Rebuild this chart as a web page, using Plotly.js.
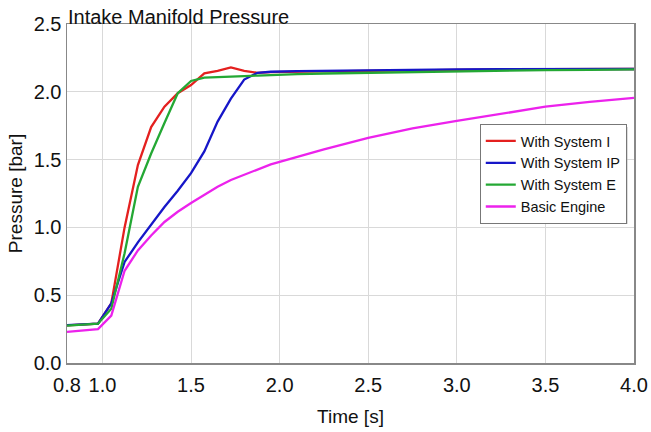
<!DOCTYPE html>
<html>
<head>
<meta charset="utf-8">
<script src="https://cdn.plot.ly/plotly-3.0.1.min.js"></script>
<style>html,body{margin:0;padding:0;background:#fff;}#chart{width:651px;height:432px;}</style>
</head>
<body>
<div id="chart"></div>
<script>
const time = [0.8, 0.975, 1.05, 1.125, 1.2, 1.275, 1.35, 1.425, 1.5, 1.575, 1.65, 1.725, 1.8, 1.875, 1.95, 2.1, 2.25, 2.5, 2.75, 3.0, 3.25, 3.5, 3.75, 4.0];
const systemI  = [0.278, 0.29, 0.44, 1.0, 1.46, 1.74, 1.89, 1.99, 2.05, 2.136, 2.155, 2.18, 2.155, 2.14, 2.145, 2.15, 2.15, 2.155, 2.16, 2.162, 2.165, 2.167, 2.167, 2.168];
const systemIP = [0.28, 0.29, 0.44, 0.745, 0.89, 1.02, 1.15, 1.27, 1.40, 1.56, 1.78, 1.95, 2.09, 2.14, 2.148, 2.152, 2.155, 2.158, 2.162, 2.165, 2.167, 2.168, 2.168, 2.168];
const systemE  = [0.275, 0.29, 0.40, 0.81, 1.30, 1.545, 1.77, 1.99, 2.08, 2.105, 2.108, 2.11, 2.115, 2.12, 2.125, 2.13, 2.135, 2.14, 2.148, 2.152, 2.157, 2.16, 2.162, 2.165];
const basicEngine = [0.23, 0.25, 0.35, 0.68, 0.83, 0.94, 1.04, 1.115, 1.18, 1.24, 1.30, 1.35, 1.39, 1.43, 1.465, 1.52, 1.575, 1.66, 1.73, 1.785, 1.84, 1.89, 1.925, 1.955];
const seriesNames = ["With System I", "With System IP", "With System E", "Basic Engine"];
const xTicks = [0.8, 1.0, 1.5, 2.0, 2.5, 3.0, 3.5, 4.0];
const xTickText = ["0.8", "1.0", "1.5", "2.0", "2.5", "3.0", "3.5", "4.0"];
const yTicks = [0, 0.5, 1.0, 1.5, 2.0, 2.5];
const yTickText = ["0.0", "0.5", "1.0", "1.5", "2.0", "2.5"];

const colors = ["#e4201f", "#1616c8", "#24a834", "#ec22ec"];
const data = [systemI, systemIP, systemE, basicEngine].map((y, i) => ({
  x: time, y: y, type: "scatter", mode: "lines", name: seriesNames[i],
  line: {color: colors[i], width: 2.3}
}));

const FONT = "Liberation Sans, Arial, sans-serif";
const layout = {
  width: 651, height: 432,
  margin: {l: 67, r: 17, t: 24, b: 69},
  paper_bgcolor: "#fff", plot_bgcolor: "#fff",
  font: {family: FONT, color: "#111"},
  title: {text: "Intake Manifold Pressure", x: 0, xref: "paper", xanchor: "left", y: 1, yref: "paper", yanchor: "bottom", pad: {b: 0, l: 1}, font: {size: 20, family: FONT, color: "#111"}},
  xaxis: {range: [0.8, 4.0], tickvals: xTicks, ticktext: xTickText, showgrid: true, gridcolor: "#d9d9d9", gridwidth: 1,
    showline: true, linecolor: "#888", linewidth: 1.5, mirror: true, ticks: "outside", ticklen: 3, tickcolor: "rgba(0,0,0,0)", zeroline: false,
    tickfont: {size: 20, family: FONT, color: "#111"},
    title: {text: "Time [s]", font: {size: 19, family: FONT, color: "#111"}, standoff: 15}},
  yaxis: {range: [0, 2.5], tickvals: yTicks, ticktext: yTickText, showgrid: true, gridcolor: "#d9d9d9", gridwidth: 1,
    showline: true, linecolor: "#888", linewidth: 1.5, mirror: true, ticks: "", zeroline: false,
    tickfont: {size: 20, family: FONT, color: "#111"},
    title: {text: "Pressure [bar]", font: {size: 19, family: FONT, color: "#111"}, standoff: 6}},
  legend: {x: 0.728, y: 0.705, xanchor: "left", yanchor: "top", bgcolor: "#fff", bordercolor: "#777", borderwidth: 1,
    font: {size: 14.5, family: FONT, color: "#111"}, itemwidth: 30, tracegroupgap: 0},
  shapes: [{type: "rect", xref: "paper", yref: "paper", x0: 0.734, x1: 0.9885, y0: 0.41, y1: 0.696,
    fillcolor: "#b8b8b8", line: {width: 0}, layer: "above"}]
};
Plotly.newPlot("chart", data, layout, {displayModeBar: false, staticPlot: true});
</script>
</body>
</html>
